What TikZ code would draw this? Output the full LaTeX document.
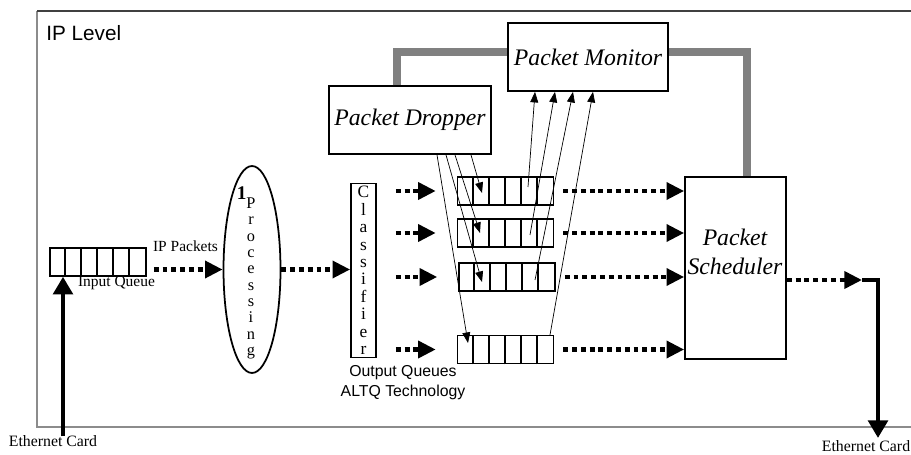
\documentclass[tikz,border=0pt]{standalone}
\usepackage{fontspec}
\setmainfont{Liberation Serif}
\setsansfont{Liberation Sans}
\usetikzlibrary{shapes.geometric,arrows.meta,positioning}

\begin{document}
\begin{tikzpicture}[x=0.02cm, y=-0.02cm,
    box/.style={draw, line width=1pt, inner sep=0pt},
    queue/.style={draw, line width=0.9pt, minimum width=1.92cm, minimum height=0.56cm, inner sep=0pt},
    flow/.style={line width=2.4pt, dash pattern=on 2.8pt off 2.2pt, -{Triangle[length=10pt,width=9.5pt]}},
    wire/.style={line width=2.8pt, -{Triangle[length=10pt,width=11pt]}},
    probe/.style={line width=0.4pt, -{Triangle[length=6pt,width=4.5pt]}},
    feedback/.style={line width=4.5pt, black!50},
    ital/.style={font=\itshape\fontsize{13.5}{16.5}\selectfont},
    small/.style={font=\fontsize{8.8}{10}\selectfont, inner sep=0pt}]
    \useasboundingbox (0,0) rectangle (911,455);
    % frame of the IP level
    \draw[black!45, line width=0.7pt] (37,11) -- (37,427) -- (930,427);
    \draw[black!75, line width=0.9pt] (37,11) -- (930,11);
    \node[font=\sffamily\fontsize{11.8}{13}\selectfont, anchor=west, inner sep=0pt] (lvl) at (46,33) {IP Level};

    \node[box, ital, minimum width=3.24cm, minimum height=1.36cm] (drop) at (410,120) {Packet Dropper};
    \node[box, ital, minimum width=3.2cm, minimum height=1.36cm] (mon) at (588,57) {Packet Monitor};
    \node[box, minimum width=2.02cm, minimum height=3.64cm] (sched) at (735.5,268) {};
    \node[ital, align=center, inner sep=0pt] (schedtxt) at (735,252) {Packet\\Scheduler};

    \node[draw, ellipse, line width=1pt, minimum width=1.14cm, minimum height=4.14cm, inner sep=0pt] (proc) at (252,269.5) {};
    \node[align=center, inner sep=0pt, font=\fontsize{9.3}{9.3}\selectfont] (proctxt) at (251,273)
        {\llap{\raisebox{5pt}{\fontsize{11}{11}\selectfont\bfseries 1}}P\\r\\o\\c\\e\\s\\s\\i\\n\\g};
    \node[box, align=center, minimum width=0.5cm, minimum height=3.48cm, font=\fontsize{9.9}{9.9}\selectfont] (cls) at (363.5,270.5)
        {C\\l\\a\\s\\s\\i\\f\\i\\e\\r};

    % queues
    \node[queue] (inq) at (98,262) {};
    \node[queue] (q1) at (505.5,191) {};
    \node[queue] (q2) at (505.5,233) {};
    \node[queue] (q3) at (507,277) {};
    \node[queue] (q4) at (505.5,349.5) {};
    \foreach \q in {inq,q1,q2,q3,q4}
      \foreach \i in {1,...,5}
        \draw[line width=0.9pt] ([xshift=\i*0.32cm]\q.south west) -- ([xshift=\i*0.32cm]\q.north west);

    \node[small] (ippk) at (185.5,246) {IP Packets};
    \node[small] (inqlbl) at (116.5,283) {Input Queue};
    \node[font=\sffamily\fontsize{9}{11.4}\selectfont, align=center, inner sep=0pt] (altq) at (403,383) {Output Queues\\ALTQ Technology};
    \node[font=\fontsize{9}{10}\selectfont, inner sep=0pt] (ethL) at (53,441) {Ethernet Card};
    \node[font=\fontsize{9}{10}\selectfont, inner sep=0pt] (ethR) at (866,446) {Ethernet Card};

    % packet path
    \coordinate (ethin) at (63,436);
    \draw[wire] (ethin) -- (ethin |- inq.south);
    \draw[flow, shorten <=0.14cm] (proc.west -| inq.east) -- (proc.west);
    \draw[flow] (proc.east) -- (proc.east -| cls.west);
    \foreach \q in {q1,q2,q3,q4} {
      \draw[flow, shorten <=0.38cm, shorten >=0.42cm] (cls.east |- \q) -- (\q.west);
      \draw[flow, shorten <=0.18cm] (\q.east) -- (\q.east -| sched.west);
    }
    \coordinate (outpt) at (862,280);
    \coordinate (ethout) at (878,438);
    \draw[flow] (outpt -| sched.east) -- (outpt);
    \draw[wire] (outpt) -| (ethout);

    % control
    \draw[feedback] ([xshift=-0.26cm]drop.north) |- ([yshift=0.1cm]mon.west);
    \draw[feedback] ([yshift=0.1cm]mon.east) -| ([xshift=0.23cm]sched.north);
    \draw[probe] ([xshift=1.22cm]drop.south) -- ([xshift=-0.47cm,yshift=-0.04cm]q1.center);
    \draw[probe] ([xshift=0.9cm]drop.south) -- ([xshift=-0.51cm]q2.center);
    \draw[probe] ([xshift=0.72cm]drop.south) -- ([xshift=-0.5cm,yshift=-0.1cm]q3.center);
    \draw[probe] ([xshift=0.54cm]drop.south) -- ([xshift=-0.75cm,yshift=0.13cm]q4.center);
    \draw[probe] ([xshift=0.45cm,yshift=0.08cm]q1.center) -- ([xshift=-1.06cm]mon.south);
    \draw[probe] ([xshift=0.49cm,yshift=-0.04cm]q2.center) -- ([xshift=-0.66cm]mon.south);
    \draw[probe] ([xshift=0.56cm,yshift=-0.06cm]q3.center) -- ([xshift=-0.3cm]mon.south);
    \draw[probe] ([xshift=0.89cm,yshift=0.29cm]q4.center) -- ([xshift=0.1cm]mon.south);
\end{tikzpicture}
\end{document}
